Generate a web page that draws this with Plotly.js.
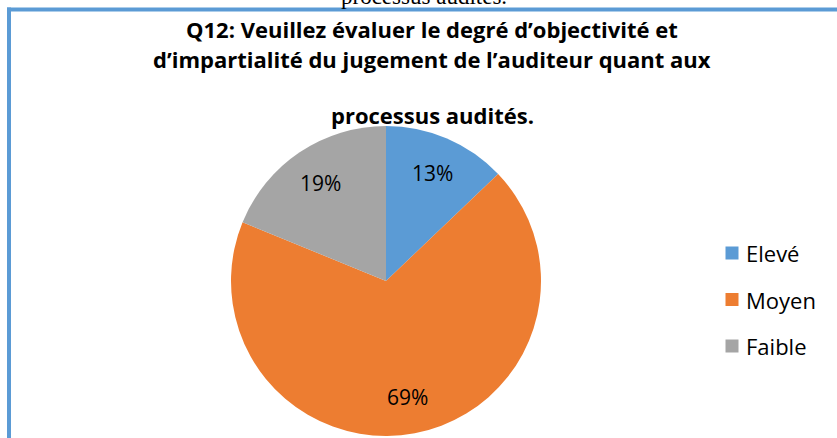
<!DOCTYPE html>
<html>
<head>
<meta charset="utf-8">
<script src="https://cdn.plot.ly/plotly-3.0.1.min.js"></script>
<style>html,body{margin:0;padding:0;background:#fff;}#chart{width:837px;height:438px;}</style>
</head>
<body>
<div id="chart"></div>
<script>
// ---- data ----
const categories = ["Elevé", "Moyen", "Faible"];
const values = [13, 69, 19];
const percentLabels = ["13%", "69%", "19%"];
const colors = ["#5B9BD5", "#ED7D31", "#A5A5A5"];
const titleLines = [
  "Q12: Veuillez évaluer le degré d’objectivité et",
  "d’impartialité du jugement de l’auditeur quant aux",
  "processus audités."
];
const cutText = "processus audités.";

// ---- layout helpers (pixel -> paper) ----
const W = 837, H = 438;
const px = x => x / W;
const py = y => 1 - y / H;

const FONT = "'Open Sans', Lato, sans-serif";

const pieCenter = {x: 386, y: 281}, pieR = 155;

const trace = {
  type: "pie",
  labels: categories,
  values: values,
  textinfo: "none",
  sort: false,
  direction: "clockwise",
  rotation: 0,
  marker: {colors: colors, line: {color: "#ffffff", width: 0}},
  showlegend: false,
  hoverinfo: "label+percent",
  domain: {
    x: [px(pieCenter.x - pieR), px(pieCenter.x + pieR)],
    y: [py(pieCenter.y + pieR), py(pieCenter.y - pieR)]
  }
};

const annotations = [];
// cut off serif text at the very top
annotations.push({
  text: cutText, xref: "paper", yref: "paper",
  x: px(424), y: py(-3), xanchor: "center", yanchor: "middle",
  showarrow: false, font: {family: "'Liberation Serif', 'Times New Roman', serif", size: 23, color: "#000"}
});
// title lines
const titleY = [29, 59, 115];
titleLines.forEach((t, i) => {
  annotations.push({
    text: "<b>" + t + "</b>", xref: "paper", yref: "paper",
    x: px(432), y: py(titleY[i]), xanchor: "center", yanchor: "middle",
    showarrow: false, font: {family: FONT, size: 22, color: "#000"}
  });
});

// percentage labels placed at each slice's mid-angle (derived from the values)
const total = values.reduce((a, b) => a + b, 0);
let cum = 0;
values.forEach((v, i) => {
  const mid = (cum + v / 2) / total * 2 * Math.PI; // clockwise from 12 o'clock
  cum += v;
  const r = pieR * 0.76;
  const x = pieCenter.x + r * Math.sin(mid);
  const y = pieCenter.y - r * Math.cos(mid);
  annotations.push({text: percentLabels[i], xref: "paper", yref: "paper",
    x: px(x), y: py(y), xanchor: "center", yanchor: "middle", showarrow: false,
    font: {family: FONT, size: 21, color: "#000"}});
});

const shapes = [];
// frame border (top and left visible)
shapes.push({type: "line", xref: "paper", yref: "paper", x0: px(7), x1: 1.01, y0: py(9.5), y1: py(9.5), line: {color: "#5B9BD5", width: 4}});
shapes.push({type: "line", xref: "paper", yref: "paper", x0: px(9), x1: px(9), y0: py(7.5), y1: -0.01, line: {color: "#5B9BD5", width: 4}});

// legend (manual)
const legX = 732, legY0 = 253, legGap = 46.5, sq = 6.5;
categories.forEach((c, i) => {
  const y = legY0 + i * legGap;
  shapes.push({type: "rect", xref: "paper", yref: "paper",
    x0: px(legX - sq), x1: px(legX + sq), y0: py(y + sq), y1: py(y - sq),
    fillcolor: colors[i], line: {width: 0}});
  annotations.push({text: c, xref: "paper", yref: "paper", x: px(744), y: py(y),
    xanchor: "left", yanchor: "middle", showarrow: false,
    font: {family: FONT, size: 22, color: "#000"}});
});

const layout = {
  width: W, height: H,
  margin: {l: 0, r: 0, t: 0, b: 0},
  paper_bgcolor: "#ffffff",
  showlegend: false,
  annotations: annotations,
  shapes: shapes
};

Plotly.newPlot("chart", [trace], layout, {displayModeBar: false, staticPlot: true});
</script>
</body>
</html>
